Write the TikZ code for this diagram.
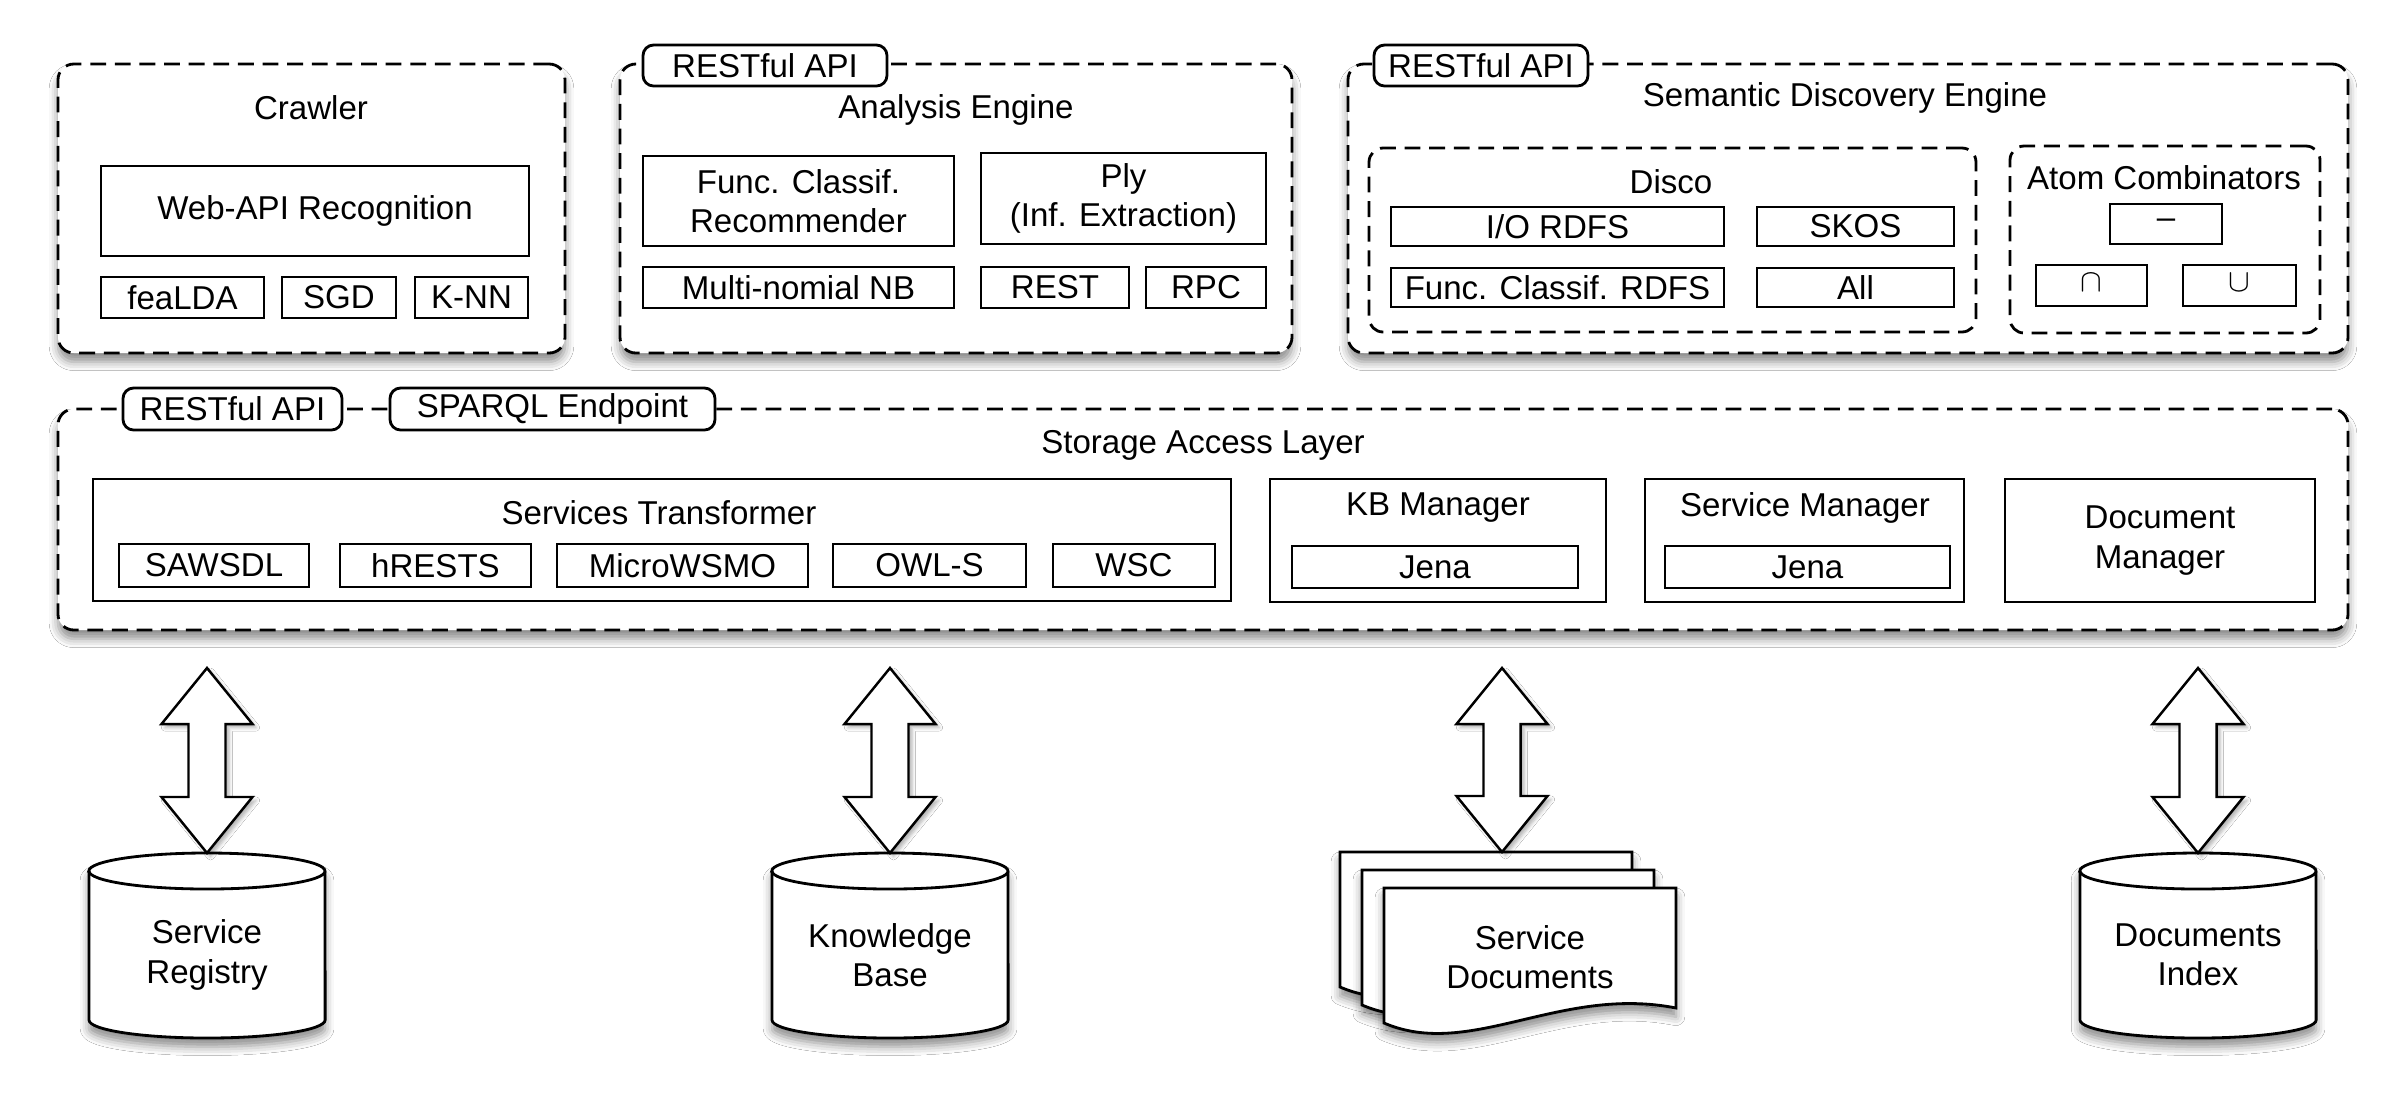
\documentclass[tikz,border=0pt]{standalone}
\usepackage{fontspec}
\setmainfont{Liberation Sans}
\usetikzlibrary{calc,shadows.blur}

\tikzset{
  every node/.style={font=\fontsize{9.4}{11.2}\selectfont},
  dashline/.style={dash pattern=on 4.5pt off 2.5pt, line width=0.8pt},
  softshadow/.style={blur shadow={shadow xshift=0pt, shadow yshift=-2.5pt, shadow blur radius=2.5pt, shadow opacity=45}},
  grp/.style={draw, dashline, rounded corners=4.5pt, fill=white, inner sep=0pt, softshadow},
  subgrp/.style={draw, dashline, rounded corners=4pt, inner sep=0pt},
  box/.style={draw, line width=0.8pt, fill=white, inner sep=0pt, align=center},
  tabbox/.style={draw, line width=0.8pt, rounded corners=3pt, fill=white, inner sep=0pt},
  lbl/.style={inner sep=0pt, align=center},
  cylpath/.style={draw, line width=0.8pt, fill=white, softshadow},
  docpath/.style={draw, line width=0.8pt, fill=white, line join=miter, softshadow},
  barrow/.style={draw, line width=0.7pt, fill=white, line join=miter,
    blur shadow={shadow xshift=1pt, shadow yshift=-1pt, shadow blur radius=1pt, shadow opacity=30}},
}

% box given by two corners (pixel units of the reference)
\newcommand{\bx}[7][box]{\node[#1, minimum width={(#5-#3)*0.01cm}, minimum height={(#6-#4)*0.01cm}] (#2) at ({(#3+#5)/2},{(#4+#6)/2}) {#7};}
% database cylinder
\newcommand{\dbcyl}[3]{%
  \path[cylpath] (#2-118,871) -- (#2-118,1020)
     arc[start angle=180, end angle=360, x radius=1.18cm, y radius=0.18cm]
     -- (#2+118,871)
     arc[start angle=0, end angle=180, x radius=1.18cm, y radius=0.18cm] -- cycle;
  \draw[line width=0.8pt] (#2-118,871)
     arc[start angle=180, end angle=360, x radius=1.18cm, y radius=0.18cm];
  \node[lbl] (#1) at (#2,955) {#3};
  \coordinate (#1top) at (#2,853);
}
% one page of the document stack
\newcommand{\docpage}[2]{%
  \begin{scope}[shift={(#1,#2)}]
    \path[docpath] (1384,888) -- (1676,888) -- (1676,1008)
      .. controls (1560,985) and (1470,1060) .. (1384,1023) -- cycle;
  \end{scope}
}
% double block arrow between two named points (same x)
\newcommand{\blockarrow}[2]{%
  \path[barrow] let \p1=(#1), \p2=(#2) in
    (\x1,\y1) -- (\x1+0.455cm,\y1-0.56cm) -- (\x1+0.185cm,\y1-0.56cm)
    -- (\x1+0.185cm,\y2+0.56cm) -- (\x1+0.455cm,\y2+0.56cm) -- (\x1,\y2)
    -- (\x1-0.455cm,\y2+0.56cm) -- (\x1-0.185cm,\y2+0.56cm)
    -- (\x1-0.185cm,\y1-0.56cm) -- (\x1-0.455cm,\y1-0.56cm) -- cycle;
}

\begin{document}
\begin{tikzpicture}[x=0.01cm, y=-0.01cm]
\fill[white] (0,0) rectangle (2402,1105);
\useasboundingbox (0,0) rectangle (2402,1105);

% ---------------- Crawler ----------------
\bx[grp]{crawler}{58}{64}{565}{353}{}
\node[lbl] (crawlerT) at (311,108) {Crawler};
\bx{webapi}{101}{166}{529}{256}{Web-API Recognition}
\bx{fealda}{101}{277}{264}{318}{feaLDA}
\bx{sgd}{282}{277}{396}{318}{SGD}
\bx{knn}{415}{277}{528}{318}{K-NN}

% ---------------- Analysis Engine ----------------
\bx[grp]{ae}{620}{64}{1292}{353}{}
\bx[tabbox]{aeapi}{643}{45}{887}{86}{RESTful API}
\node[lbl] (aeT) at (956,110) {Analysis Engine};
\bx{funcrec}{643}{156}{954}{246}{Func. Classif.\\Recommender}
\bx{ply}{981}{153}{1266}{244}{Ply\\(Inf. Extraction)}
\bx{mnb}{643}{267}{954}{308}{Multi-nomial NB}
\bx{rest}{981}{267}{1129}{308}{REST}
\bx{rpc}{1146}{267}{1266}{308}{RPC}

% ---------------- Semantic Discovery Engine ----------------
\bx[grp]{sde}{1348}{64}{2348}{353}{}
\bx[tabbox]{sdeapi}{1374}{45}{1588}{86}{RESTful API}
\node[lbl] (sdeT) at (1845,98) {Semantic Discovery Engine};
\bx[subgrp]{disco}{1369}{148}{1976}{332}{}
\node[lbl] (discoT) at (1671,182) {Disco};
\bx{iordfs}{1391}{207}{1724}{246}{I/O RDFS}
\bx{skos}{1757}{207}{1954}{246}{SKOS}
\bx{fcrdfs}{1391}{268}{1724}{307}{Func. Classif. RDFS}
\bx{all}{1757}{268}{1954}{307}{All}
\bx[subgrp]{atom}{2010}{146}{2320}{333}{}
\node[lbl] (atomT) at (2164,178) {Atom Combinators};
\bx{minus}{2110}{204}{2222}{244}{–}
\bx{capb}{2036}{265}{2147}{306}{\raisebox{0.3ex}{$\cap$}}
\bx{cupb}{2183}{265}{2296}{306}{\raisebox{0.3ex}{$\cup$}}

% ---------------- Storage Access Layer ----------------
\bx[grp]{sal}{58}{409}{2348}{630}{}
\bx[tabbox]{salapi}{123}{388}{342}{430}{RESTful API}
\bx[tabbox]{sparql}{390}{388}{715}{430}{SPARQL Endpoint}
\node[lbl] (salT) at (1203,445) {Storage Access Layer};
\bx{st}{93}{479}{1231}{601}{}
\node[lbl] (stT) at (659,513) {Services Transformer};
\bx{sawsdl}{119}{544}{309}{587}{SAWSDL}
\bx{hrests}{340}{544}{531}{587}{hRESTS}
\bx{microwsmo}{557}{544}{808}{587}{MicroWSMO}
\bx{owls}{833}{544}{1026}{587}{OWL-S}
\bx{wsc}{1053}{544}{1215}{587}{WSC}
\bx{kbm}{1270}{479}{1606}{602}{}
\node[lbl] (kbmT) at (1438,508) {KB Manager};
\bx{jena1}{1292}{546}{1578}{588}{Jena}
\bx{sm}{1645}{479}{1964}{602}{}
\node[lbl] (smT) at (1805,508) {Service Manager};
\bx{jena2}{1665}{546}{1950}{588}{Jena}
\bx{dm}{2005}{479}{2315}{602}{Document\\Manager}

% ---------------- Stores ----------------
\dbcyl{reg}{207}{Service\\Registry}
\dbcyl{kb}{890}{Knowledge\\Base}
\dbcyl{dix}{2198}{Documents\\Index}
\docpage{-44}{-36}
\docpage{-22}{-18}
\docpage{0}{0}
\node[lbl] (sdoc) at (1530,957) {Service\\Documents};
\coordinate (sdoctop) at (1502,852);

% ---------------- Arrows ----------------
\coordinate (regin) at (207,668);
\coordinate (kbin) at (890,668);
\coordinate (sdocin) at (1502,668);
\coordinate (dixin) at (2198,668);
\blockarrow{regin}{regtop}
\blockarrow{kbin}{kbtop}
\blockarrow{sdocin}{sdoctop}
\blockarrow{dixin}{dixtop}
\end{tikzpicture}
\end{document}
